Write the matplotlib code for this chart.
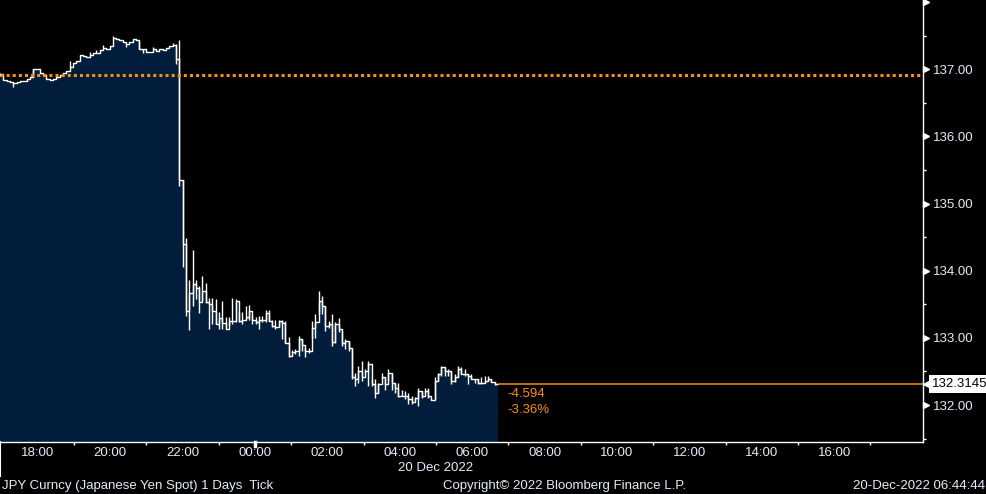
import numpy as np
import pandas as pd
import matplotlib
matplotlib.use("Agg")
import matplotlib.pyplot as plt
import matplotlib.dates as mdates
import matplotlib.transforms as mtransforms

plt.rcParams["font.family"] = ["Liberation Sans", "DejaVu Sans"]

# JPY spot, 5.5 minute bars from 16:57:30 on 19 Dec 2022
start = "2022-12-19 16:57:30"
bar_freq = "330s"

close = [
    136.93, 136.84, 136.82, 136.81, 136.80, 136.81, 136.83, 136.83, 136.85, 136.89,
    137.00, 137.00, 136.94, 136.91, 136.86, 136.84, 136.86, 136.89, 136.92, 136.95,
    136.98, 137.03, 137.10, 137.13, 137.21, 137.20, 137.18, 137.22, 137.25, 137.25,
    137.28, 137.31, 137.30, 137.34, 137.47, 137.45, 137.43, 137.40, 137.38, 137.40,
    137.45, 137.43, 137.30, 137.30, 137.26, 137.26, 137.30, 137.27, 137.30, 137.28,
    137.31, 137.34, 137.36, 137.15, 135.35, 134.40, 133.40, 133.67, 133.80, 133.74,
    133.53, 133.70, 133.53, 133.50, 133.40, 133.20, 133.30, 133.22, 133.13, 133.25,
    133.25, 133.55, 133.25, 133.27, 133.31, 133.40, 133.27, 133.23, 133.26, 133.26,
    133.37, 133.25, 133.18, 133.16, 133.25, 133.22, 132.93, 132.73, 132.79, 132.80,
    132.99, 132.90, 132.80, 132.80, 133.15, 133.24, 133.55, 133.47, 133.18, 133.20,
    132.94, 133.20, 133.13, 132.93, 132.95, 132.85, 132.41, 132.38, 132.51, 132.41,
    132.51, 132.61, 132.31, 132.18, 132.31, 132.41, 132.31, 132.48, 132.33, 132.26,
    132.14, 132.14, 132.14, 132.09, 132.04, 132.11, 132.21, 132.14, 132.21, 132.14,
    132.08, 132.36, 132.46, 132.56, 132.51, 132.51, 132.36, 132.41, 132.53, 132.46,
    132.46, 132.43, 132.39, 132.38, 132.33, 132.33, 132.36, 132.38, 132.34, 132.3145,
]

high = [
    136.94, 136.84, 136.82, 136.81, 136.80, 136.81, 136.83, 136.83, 136.85, 136.89,
    137.00, 137.00, 136.94, 136.91, 136.86, 136.84, 136.86, 136.89, 136.92, 136.95,
    136.98, 137.12, 137.10, 137.13, 137.21, 137.20, 137.18, 137.26, 137.25, 137.28,
    137.28, 137.36, 137.30, 137.34, 137.49, 137.45, 137.43, 137.40, 137.38, 137.40,
    137.45, 137.43, 137.42, 137.30, 137.26, 137.26, 137.33, 137.27, 137.30, 137.28,
    137.31, 137.34, 137.39, 137.37, 137.44, 135.35, 134.49, 133.86, 134.31, 133.86,
    133.77, 133.92, 133.81, 133.60, 133.60, 133.58, 133.38, 133.55, 133.31, 133.31,
    133.60, 133.58, 133.39, 133.38, 133.48, 133.49, 133.33, 133.31, 133.33, 133.33,
    133.41, 133.42, 133.26, 133.26, 133.26, 133.26, 133.25, 133.01, 132.82, 132.83,
    133.03, 132.99, 132.85, 132.85, 133.25, 133.35, 133.70, 133.62, 133.47, 133.25,
    133.35, 133.23, 133.30, 133.10, 132.98, 132.95, 132.83, 132.48, 132.58, 132.66,
    132.53, 132.66, 132.38, 132.38, 132.33, 132.48, 132.41, 132.53, 132.46, 132.33,
    132.33, 132.23, 132.21, 132.18, 132.14, 132.12, 132.26, 132.21, 132.26, 132.25,
    132.09, 132.41, 132.48, 132.58, 132.56, 132.53, 132.51, 132.46, 132.58, 132.56,
    132.53, 132.46, 132.46, 132.39, 132.38, 132.41, 132.43, 132.43, 132.38, 132.34,
]

low = [
    136.90, 136.84, 136.82, 136.81, 136.74, 136.81, 136.83, 136.83, 136.85, 136.89,
    136.89, 137.00, 136.94, 136.91, 136.86, 136.84, 136.86, 136.89, 136.92, 136.95,
    136.98, 137.03, 137.10, 137.13, 137.21, 137.20, 137.18, 137.22, 137.25, 137.25,
    137.28, 137.31, 137.30, 137.34, 137.47, 137.45, 137.43, 137.40, 137.33, 137.40,
    137.45, 137.43, 137.30, 137.24, 137.26, 137.26, 137.30, 137.27, 137.30, 137.28,
    137.31, 137.34, 137.36, 137.08, 135.26, 134.05, 133.32, 133.12, 133.47, 133.58,
    133.37, 133.55, 133.52, 133.13, 133.20, 133.20, 133.13, 133.13, 133.13, 133.18,
    133.20, 133.23, 133.23, 133.20, 133.28, 133.26, 133.20, 133.20, 133.13, 133.23,
    133.23, 133.25, 133.16, 133.13, 133.16, 132.99, 132.92, 132.72, 132.77, 132.76,
    132.73, 132.80, 132.72, 132.78, 133.00, 133.00, 133.35, 133.35, 133.10, 133.15,
    132.88, 132.93, 133.08, 132.88, 132.83, 132.80, 132.38, 132.28, 132.33, 132.36,
    132.48, 132.28, 132.28, 132.11, 132.18, 132.38, 132.23, 132.36, 132.23, 132.18,
    132.12, 132.14, 132.09, 132.01, 132.01, 132.07, 131.99, 132.11, 132.18, 132.11,
    132.07, 132.09, 132.36, 132.43, 132.43, 132.43, 132.31, 132.34, 132.41, 132.46,
    132.43, 132.31, 132.38, 132.33, 132.31, 132.31, 132.33, 132.36, 132.34, 132.30,
]

prev_close = 136.9085
y_ticks = [132, 133, 134, 135, 136, 137]
x_label_hours = ["18:00", "20:00", "22:00", "00:00", "02:00", "04:00",
                 "06:00", "08:00", "10:00", "12:00", "14:00", "16:00"]

navy = "#021d3b"
orange = "#f78f12"
txt = "#e4ecf8"
fs = 9.5

times = pd.date_range(start, periods=len(close) + 1, freq=bar_freq)
close_ext = close + [close[-1]]
x_left = pd.Timestamp("2022-12-19 16:57:30")
x_right = pd.Timestamp("2022-12-20 18:27:00")
y_bottom, y_top = 131.449, 138.032

fig = plt.figure(figsize=(9.87, 4.94), dpi=100, facecolor="black")
ax = fig.add_axes([0, 52 / 494, 923 / 987, 442 / 494], facecolor="black")

ax.fill_between(times, close_ext, y_bottom, step="post", color=navy, lw=0)
ax.step(times, close_ext, where="post", color="white", lw=1.0)
ax.vlines(times[:-1], low, high, color="white", lw=1.0)

ax.axhline(prev_close, color=orange, ls=(0, (1, 1)), lw=2.2)
last = close[-1]
ax.hlines(last, times[-1], x_right, color=orange, lw=1.1)

change = last - prev_close
pct = change / prev_close * 100
ax.annotate(f"{change:.3f}", (times[-1], last), xytext=(6.5, -7),
            textcoords="offset points", color=orange, fontsize=fs, va="center")
ax.annotate(f"{pct:.2f}%", (times[-1], last), xytext=(6.5, -18.5),
            textcoords="offset points", color=orange, fontsize=fs, va="center")

ax.set_xlim(x_left, x_right)
ax.set_ylim(y_bottom, y_top)

for side in ["top", "left"]:
    ax.spines[side].set_visible(False)
for side in ["right", "bottom"]:
    ax.spines[side].set_color("white")
    ax.spines[side].set_linewidth(1.0)

# y axis on the right
ax.yaxis.tick_right()
ax.set_yticks(y_ticks)
ax.set_yticklabels([f"{v:.2f}" for v in y_ticks])
ax.set_yticks(np.arange(131.5, 138.0, 1.0), minor=True)
ax.tick_params(axis="y", which="major", length=0, pad=7.5, labelsize=fs, labelcolor=txt)
ax.tick_params(axis="y", which="minor", length=2.5, width=1, color="white", direction="out")
tri = mtransforms.offset_copy(ax.get_yaxis_transform(), fig=fig, x=3.5, units="dots")
ax.plot(np.ones(len(y_ticks) + 1), y_ticks + [138], ls="none", marker=">", ms=5,
        color="white", transform=tri, clip_on=False)

# last price flag
flag = mtransforms.offset_copy(ax.get_yaxis_transform(), fig=fig, x=6, units="dots")
ax.plot([1], [last], ls="none", marker="<", ms=8, color="white", transform=flag, clip_on=False)
ax.text(1.0, last, f"{last:.4f}", transform=mtransforms.offset_copy(
        ax.get_yaxis_transform(), fig=fig, x=9, units="dots"),
        color="black", fontsize=fs, va="center", ha="left",
        bbox=dict(boxstyle="square,pad=0.2", fc="white", ec="none"))

# x axis
major = pd.date_range("2022-12-19 18:00", periods=len(x_label_hours), freq="2h")
minor = pd.date_range("2022-12-19 19:00", "2022-12-20 17:00", freq="2h")
ax.set_xticks(major)
ax.set_xticklabels(x_label_hours)
ax.set_xticks(minor, minor=True)
ax.tick_params(axis="x", which="major", length=0, pad=3.5, labelsize=fs, labelcolor=txt)
ax.tick_params(axis="x", which="minor", length=2.5, width=1, color="white")
midnight = mdates.date2num(pd.Timestamp("2022-12-20 00:00"))
ax.plot([midnight, midnight], [0, -0.008], transform=ax.get_xaxis_transform(),
        color="white", lw=2.5, clip_on=False)
ax.plot([0, 0], [0, -0.077], transform=ax.transAxes, color="white", lw=1.5, clip_on=False)
ax.text(pd.Timestamp("2022-12-20 05:00"), -0.059, "20 Dec 2022",
        transform=ax.get_xaxis_transform(), color=txt, fontsize=fs, ha="center", va="center")

# footer
fig.text(2 / 987, 0.016, "JPY Curncy (Japanese Yen Spot) 1 Days  Tick",
         color=txt, fontsize=fs, va="center", ha="left")
fig.text(443 / 987, 0.016, "Copyright\u00a9 2022 Bloomberg Finance L.P.",
         color=txt, fontsize=fs, va="center", ha="left")
fig.text(0.998, 0.016, "20-Dec-2022 06:44:44",
         color=txt, fontsize=fs, va="center", ha="right")

fig.savefig("out.png", dpi=100, facecolor="black")
